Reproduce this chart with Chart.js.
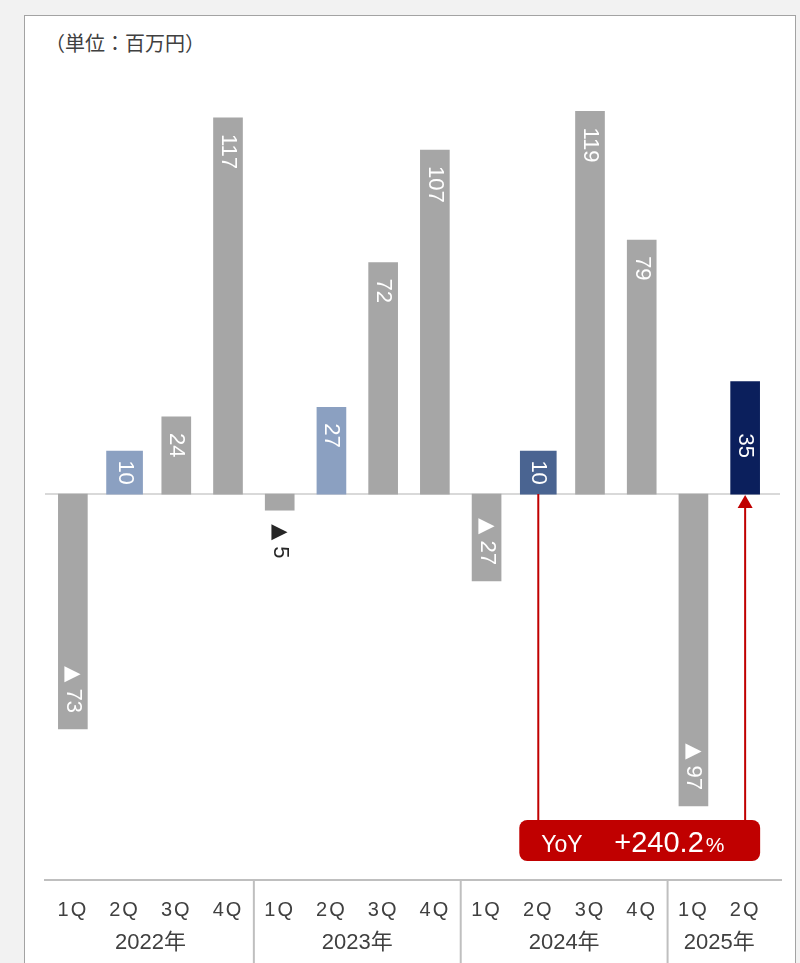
<!DOCTYPE html>
<html>
<head>
<meta charset="utf-8">
<script src="https://cdn.jsdelivr.net/npm/chart.js@4.4.1/dist/chart.umd.min.js"></script>
<style>
  body { margin: 0; background: #f2f2f2; }
  #panel { position: absolute; left: 24px; top: 15px; width: 770px; height: 960px; background: #fff;
           border: 1.5px solid #a3a3a3; border-bottom: none; }
  #unit { position: absolute; left: 45px; top: 32px; font: 20px "Noto Sans CJK JP"; line-height: 22px; color: #404040; }
  #wrap { position: absolute; left: 0; top: 0; width: 800px; height: 963px; }
</style>
</head>
<body>
<div id="panel"></div>
<div id="unit">（単位：百万円）</div>
<div id="wrap"><canvas id="grafica"></canvas></div>
<script>
// datos
const quarters = ['1Q', '2Q', '3Q', '4Q', '1Q', '2Q', '3Q', '4Q', '1Q', '2Q', '3Q', '4Q', '1Q', '2Q'];
const years = ['2022年', '2023年', '2024年', '2025年'];
const quartersPerYear = [4, 4, 4, 2];
const profit = [-73, 10, 24, 117, -5, 27, 72, 107, -27, 10, 119, 79, -97, 35];
const yoyText = '+240.2';
const yoyPair = [9, 13];

// estilos
const gray = '#a6a6a6';
const barColors = [gray, '#8ba0c1', gray, gray, gray, '#8ba0c1', gray, gray, gray, '#4a6491', gray, gray, gray, '#0b1f5c'];
const wideBars = [1, 9];
const red = '#c00000';
const numFont = '22px "Liberation Sans"';
const triFont = '21px "DejaVu Sans"';

const normalData = profit.map((v, i) => wideBars.includes(i) ? null : v);
const wideData = profit.map((v, i) => wideBars.includes(i) ? v : null);

const extras = {
    id: 'extras',
    beforeDraw(chart) {
        // espaciado de letras para las etiquetas de trimestre
        chart.ctx.letterSpacing = '2px';
    },
    beforeDatasetsDraw(chart) {
        const { ctx, chartArea, scales: { y } } = chart;
        ctx.letterSpacing = '0px';
        const y0 = y.getPixelForValue(0);
        ctx.save();
        ctx.strokeStyle = '#d9d9d9';
        ctx.lineWidth = 2;
        ctx.beginPath();
        ctx.moveTo(chartArea.left - 2, y0);
        ctx.lineTo(chartArea.right + 9, y0);
        ctx.stroke();
        ctx.restore();
    },
    afterDatasetsDraw(chart) {
        const { ctx, chartArea, scales: { x, y } } = chart;
        const y0 = y.getPixelForValue(0);
        ctx.save();
        ctx.letterSpacing = '0px';

        // etiquetas de valores (giradas)
        ctx.textBaseline = 'middle';
        ctx.textAlign = 'left';
        chart.data.datasets.forEach((ds, di) => {
            chart.getDatasetMeta(di).data.forEach((bar, i) => {
                const v = ds.data[i];
                if (v === null) return;
                const num = String(Math.abs(v));
                ctx.font = numFont;
                const wNum = ctx.measureText(num).width;
                ctx.font = triFont;
                const wTri = v < 0 ? ctx.measureText('▲').width + 6 : 0;
                const w = wNum + wTri;
                const top = Math.min(bar.y, bar.base);
                const bottom = Math.max(bar.y, bar.base);
                let start;
                let color = '#fff';
                if (v >= 0) {
                    start = i === profit.length - 1
                        ? (top + bottom) / 2 - w / 2 + 8
                        : top + Math.min(16, (bottom - top - w) / 2);
                } else if (bottom - top < w + 12) {
                    start = bottom + 14;
                    color = '#262626';
                } else {
                    start = Math.max(bottom - 16 - w, top + 8);
                }
                ctx.save();
                ctx.translate(bar.x, start);
                ctx.rotate(Math.PI / 2);
                ctx.fillStyle = color;
                if (v < 0) {
                    ctx.font = triFont;
                    ctx.fillText('▲', 0, 0);
                }
                ctx.font = numFont;
                ctx.fillText(num, wTri, 0);
                ctx.restore();
            });
        });

        // linea del eje
        const bottom = chartArea.bottom;
        ctx.strokeStyle = '#bfbfbf';
        ctx.lineWidth = 2;
        ctx.beginPath();
        ctx.moveTo(chartArea.left - 3, bottom);
        ctx.lineTo(chartArea.right + 11, bottom);
        ctx.stroke();

        // separadores y años
        ctx.font = '22px "Liberation Sans", "Noto Sans CJK JP"';
        ctx.fillStyle = '#404040';
        ctx.textAlign = 'center';
        ctx.textBaseline = 'middle';
        let idx = 0;
        years.forEach((yr, k) => {
            const first = idx, last = idx + quartersPerYear[k] - 1;
            const cx = (x.getPixelForValue(first) + x.getPixelForValue(last)) / 2;
            ctx.fillText(yr, cx, bottom + 63);
            if (k > 0) {
                const sx = (x.getPixelForValue(first - 1) + x.getPixelForValue(first)) / 2;
                ctx.beginPath();
                ctx.moveTo(sx, bottom);
                ctx.lineTo(sx, chart.height);
                ctx.stroke();
            }
            idx += quartersPerYear[k];
        });

        // YoY
        const xa = x.getPixelForValue(yoyPair[0]);
        const xb = x.getPixelForValue(yoyPair[1]);
        const boxTop = bottom - 60, boxBot = bottom - 19;
        const boxL = xa - 19, boxR = xb + 15;
        ctx.strokeStyle = red;
        ctx.fillStyle = red;
        ctx.lineWidth = 2;
        ctx.beginPath();
        ctx.moveTo(xa, y0);
        ctx.lineTo(xa, boxTop);
        ctx.moveTo(xb, boxTop);
        ctx.lineTo(xb, y0 + 12);
        ctx.stroke();
        ctx.beginPath();
        ctx.moveTo(xb, y0 + 1);
        ctx.lineTo(xb - 7.5, y0 + 14);
        ctx.lineTo(xb + 7.5, y0 + 14);
        ctx.closePath();
        ctx.fill();
        ctx.beginPath();
        ctx.roundRect(boxL, boxTop, boxR - boxL, boxBot - boxTop, 8);
        ctx.fill();

        ctx.fillStyle = '#fff';
        ctx.textAlign = 'left';
        ctx.textBaseline = 'alphabetic';
        const base = boxBot - 9;
        ctx.font = '23px "Liberation Sans"';
        ctx.fillText('YoY', boxL + 22, base);
        ctx.font = '29px "Liberation Sans"';
        ctx.fillText(yoyText, boxL + 95, base);
        const w2 = ctx.measureText(yoyText).width;
        ctx.font = '21px "Liberation Sans"';
        ctx.fillText('%', boxL + 97 + w2, base);

        ctx.restore();
    }
};

const $grafica = document.querySelector('#grafica');
new Chart($grafica, {
    type: 'bar',
    data: {
        labels: quarters,
        datasets: [
            {
                data: normalData,
                backgroundColor: barColors,
                barThickness: 29,
            },
            {
                data: wideData,
                backgroundColor: barColors,
                barThickness: 36,
                minBarLength: 43,
            },
        ]
    },
    options: {
        responsive: true,
        maintainAspectRatio: false,
        animation: false,
        layout: { padding: { left: 47, right: 29, top: 60, bottom: 0 } },
        plugins: {
            legend: { display: false },
            tooltip: { enabled: false },
        },
        scales: {
            x: {
                stacked: true,
                grid: { display: false, drawTicks: false },
                border: { display: false },
                ticks: {
                    color: '#404040',
                    font: { size: 20, family: '"Liberation Sans"' },
                    padding: 18,
                    maxRotation: 0,
                    autoSkip: false,
                },
                afterFit(scale) { scale.height = 83; },
            },
            y: {
                display: false,
                min: -120,
                max: 135,
            }
        }
    },
    plugins: [extras]
});
</script>
</body>
</html>
